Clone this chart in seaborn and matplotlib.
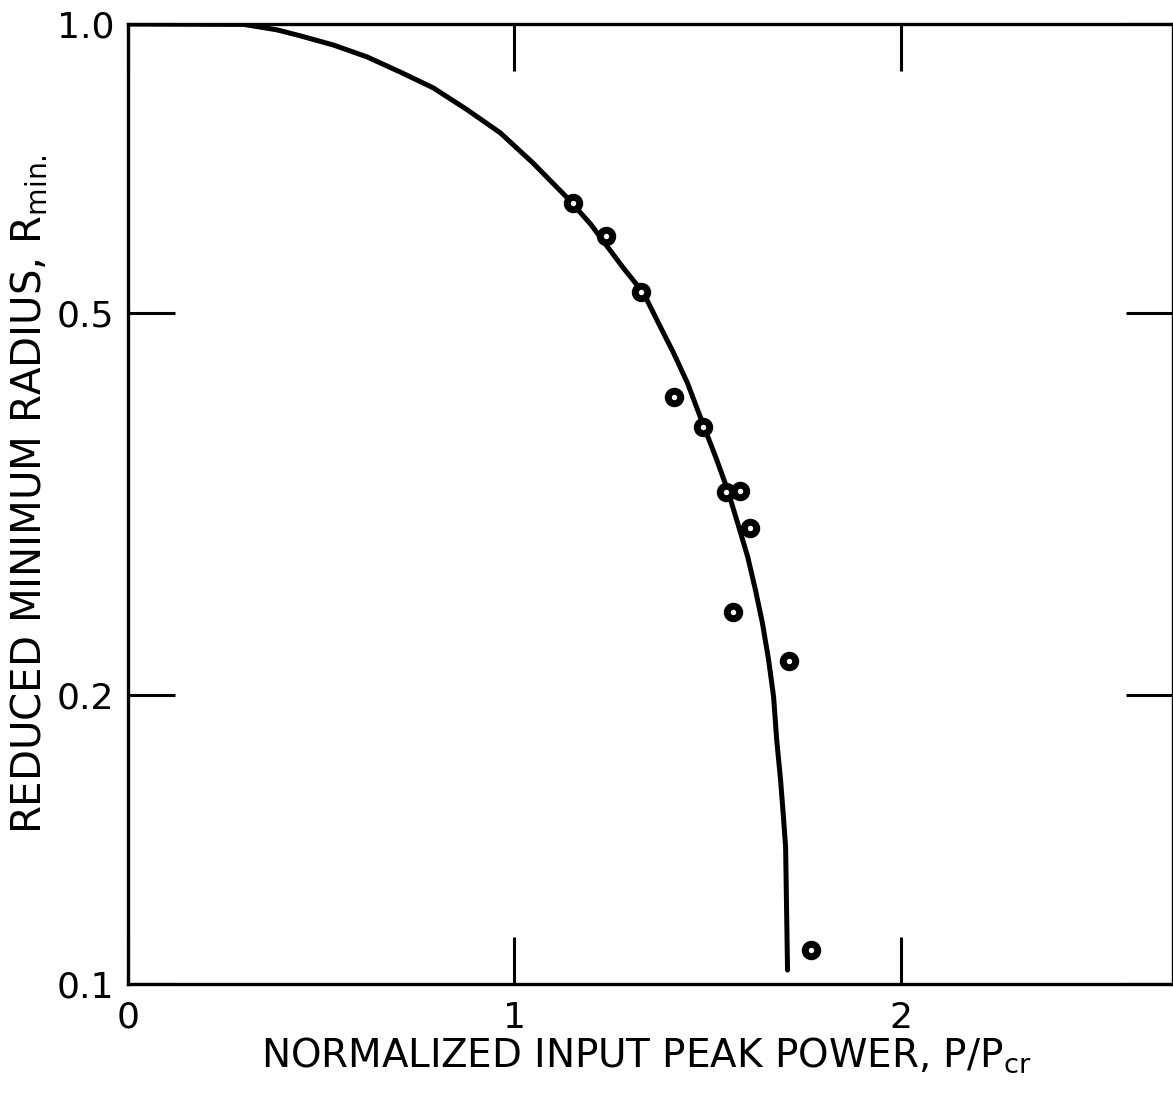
import numpy as np
import pandas as pd
import seaborn as sns
import matplotlib.pyplot as plt
from matplotlib.ticker import FixedLocator, FixedFormatter, NullLocator

# smooth theoretical curve
curve_power = [0.0, 0.30, 0.386, 0.446, 0.531, 0.619, 0.705, 0.790, 0.878,
               0.964, 1.049, 1.137, 1.197, 1.282, 1.334, 1.378, 1.412,
               1.448, 1.487, 1.521, 1.552, 1.578, 1.604, 1.624, 1.642,
               1.658, 1.671, 1.679, 1.689, 1.696, 1.702, 1.707]
curve_radius = [1.0, 0.999, 0.986, 0.972, 0.951, 0.924, 0.891, 0.858, 0.814,
                0.770, 0.716, 0.659, 0.619, 0.557, 0.5247, 0.4835, 0.4543,
                0.4227, 0.3841, 0.354, 0.327, 0.302, 0.2785, 0.2573, 0.2377,
                0.2176, 0.199, 0.1795, 0.1631, 0.150, 0.139, 0.1034]

# measured points
meas_power = [1.153, 1.238, 1.329, 1.412, 1.487, 1.547, 1.583, 1.611,
              1.565, 1.710, 1.767]
meas_radius = [0.651, 0.601, 0.526, 0.409, 0.380, 0.3255, 0.326, 0.2985,
               0.244, 0.217, 0.1085]

y_ticks = [0.1, 0.2, 0.5, 1.0]
y_labels = ["0.1", "0.2", "0.5", "1.0"]
x_ticks = [0, 1, 2]
x_labels = ["0", "1", "2"]

curve = pd.DataFrame({"power": curve_power, "radius": curve_radius})
meas = pd.DataFrame({"power": meas_power, "radius": meas_radius})

sns.set_style("ticks")
plt.rcParams["font.family"] = ["DejaVu Sans"]
plt.rcParams["text.color"] = "black"
plt.rcParams["axes.labelcolor"] = "black"

fig = plt.figure(figsize=(11.73, 10.99), dpi=100)
ax = fig.add_axes([128 / 1173, 1 - 984 / 1099, 1 - 128 / 1173, 960 / 1099])

sns.lineplot(data=curve, x="power", y="radius", ax=ax, color="black",
             linewidth=3.6, sort=False, estimator=None)
sns.scatterplot(data=meas, x="power", y="radius", ax=ax, s=81,
                facecolor="white", edgecolor="black", linewidth=5,
                zorder=5)

ax.set_yscale("log")
ax.set_xlim(0, (1172 - 128) / 386)
ax.set_ylim(0.1, 1.0)

ax.yaxis.set_major_locator(FixedLocator(y_ticks))
ax.yaxis.set_major_formatter(FixedFormatter(y_labels))
ax.yaxis.set_minor_locator(NullLocator())
ax.xaxis.set_major_locator(FixedLocator(x_ticks))
ax.xaxis.set_major_formatter(FixedFormatter(x_labels))

ax.tick_params(axis="both", which="major", direction="in", length=34,
               width=2.2, labelsize=26, color="black", labelcolor="black",
               pad=10, top=True, right=True)
ax.tick_params(axis="x", pad=12)

for side in ["left", "right", "top", "bottom"]:
    ax.spines[side].set_linewidth(2.4)
    ax.spines[side].set_color("black")

ax.set_xlabel("NORMALIZED INPUT PEAK POWER, P/P$_{\\mathregular{cr}}$",
              fontsize=28)
ax.set_ylabel("REDUCED MINIMUM RADIUS, R$_{\\mathregular{min.}}$",
              fontsize=29)
ax.xaxis.set_label_coords(0.496, -0.054)
ax.yaxis.set_label_coords(-0.074, 0.51)

fig.savefig("out.png", dpi=100)
